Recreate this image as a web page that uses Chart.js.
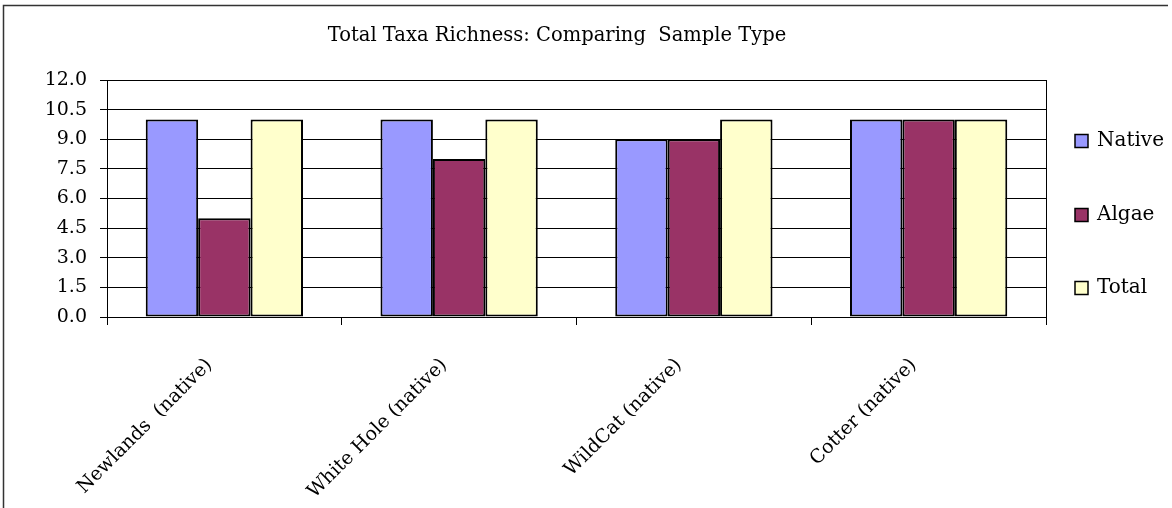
<!DOCTYPE html>
<html>
<head>
<meta charset="utf-8">
<script src="https://cdn.jsdelivr.net/npm/chart.js@4/dist/chart.umd.min.js"></script>
<style>
  html, body { margin: 0; padding: 0; background: #fff; }
  #wrap { position: relative; width: 1172px; height: 508px; }
</style>
</head>
<body>
<div id="wrap"><canvas id="c" width="1172" height="508"></canvas></div>
<script>
const chartTitle = 'Total Taxa Richness: Comparing  Sample Type';
const sites = ['Newlands  (native)', 'White Hole (native)', 'WildCat (native)', 'Cotter (native)'];
const seriesNames = ['Native', 'Algae', 'Total'];
const nativeRichness = [10, 10, 9, 10];
const algaeRichness = [5, 8, 9, 10];
const totalRichness = [10, 10, 10, 10];
const seriesColors = ['#9999FF', '#993366', '#FFFFCC'];
const yTicks = [0, 1.5, 3, 4.5, 6, 7.5, 9, 10.5, 12];

const FONT = "'DejaVu Serif', 'Liberation Serif', serif";

// Page frame (top and left rule), the title, and the right edge of the plot area.
const framePlugin = {
  id: 'frame',
  beforeDraw(chart) {
    const ctx = chart.ctx;
    ctx.save();
    ctx.strokeStyle = '#333';
    ctx.lineWidth = 1.5;
    ctx.beginPath();
    ctx.moveTo(3.5, 508);
    ctx.lineTo(3.5, 5.5);
    ctx.lineTo(1168, 5.5);
    ctx.stroke();
    ctx.font = '19.5px ' + FONT;
    ctx.fillStyle = '#000';
    ctx.textAlign = 'center';
    ctx.textBaseline = 'middle';
    ctx.fillText(chartTitle, 557, 36);
    ctx.restore();
  },
  beforeDatasetsDraw(chart) {
    const a = chart.chartArea;
    const ctx = chart.ctx;
    ctx.save();
    ctx.strokeStyle = '#000';
    ctx.lineWidth = 1;
    ctx.beginPath();
    ctx.moveTo(Math.round(a.right) + 0.5, a.top);
    ctx.lineTo(Math.round(a.right) + 0.5, a.bottom);
    ctx.stroke();
    ctx.restore();
  }
};

// Category names, slanted 45 degrees, ending just left of each category centre.
const slantedLabels = {
  id: 'slantedLabels',
  afterDraw(chart) {
    const ctx = chart.ctx;
    const xs = chart.scales.x;
    const yBase = chart.chartArea.bottom + 45;
    ctx.save();
    ctx.font = '19px ' + FONT;
    ctx.fillStyle = '#000';
    ctx.textAlign = 'right';
    ctx.textBaseline = 'middle';
    chart.data.labels.forEach((lab, i) => {
      const x = xs.getPixelForValue(i) - 15;
      ctx.save();
      ctx.translate(x, yBase);
      ctx.rotate(-Math.PI / 4);
      ctx.fillText(lab, 0, 0);
      ctx.restore();
    });
    ctx.restore();
  }
};

// Vertical legend to the right of the plot.
const sideLegend = {
  id: 'sideLegend',
  afterDraw(chart) {
    const ctx = chart.ctx;
    const a = chart.chartArea;
    const x0 = a.right + 29;
    const rows = [141, 215, 288];
    ctx.save();
    ctx.font = '20px ' + FONT;
    ctx.textBaseline = 'middle';
    ctx.textAlign = 'left';
    chart.data.datasets.forEach((ds, i) => {
      const y = rows[i];
      ctx.fillStyle = ds.backgroundColor;
      ctx.fillRect(x0, y - 6.5, 13, 13);
      ctx.strokeStyle = '#000';
      ctx.lineWidth = 1.5;
      ctx.strokeRect(x0, y - 6.5, 13, 13);
      ctx.fillStyle = '#000';
      ctx.fillText(ds.label, x0 + 22, y);
    });
    ctx.restore();
  }
};

new Chart(document.getElementById('c'), {
  type: 'bar',
  data: {
    labels: sites,
    datasets: [
      { label: seriesNames[0], data: nativeRichness, backgroundColor: seriesColors[0] },
      { label: seriesNames[1], data: algaeRichness, backgroundColor: seriesColors[1] },
      { label: seriesNames[2], data: totalRichness, backgroundColor: seriesColors[2] }
    ].map(d => Object.assign(d, { borderColor: '#000', borderWidth: 2, borderSkipped: false }))
  },
  options: {
    responsive: false,
    animation: false,
    devicePixelRatio: 1,
    datasets: { bar: { barPercentage: 1, categoryPercentage: 0.67 } },
    layout: { padding: { left: 0, right: 126, top: 80, bottom: 0 } },
    plugins: {
      legend: { display: false },
      tooltip: { enabled: false },
      title: { display: false }
    },
    scales: {
      x: {
        grid: {
          display: true,
          offset: true,
          drawOnChartArea: false,
          drawTicks: true,
          tickLength: 8,
          color: '#000'
        },
        border: { display: true, color: '#000', width: 1 },
        ticks: { display: false, autoSkip: false },
        afterFit(scale) { scale.height = 191; }
      },
      y: {
        min: 0,
        max: 12,
        afterBuildTicks(scale) { scale.ticks = yTicks.map(v => ({ value: v })); },
        grid: { color: '#000', lineWidth: 1, drawTicks: true, tickLength: 7 },
        border: { display: true, color: '#000', width: 1 },
        ticks: {
          color: '#000',
          font: { family: FONT, size: 19 },
          padding: 13,
          callback: v => Number(v).toFixed(1)
        },
        afterFit(scale) { scale.width = 107; }
      }
    }
  },
  plugins: [framePlugin, slantedLabels, sideLegend]
});
</script>
</body>
</html>
